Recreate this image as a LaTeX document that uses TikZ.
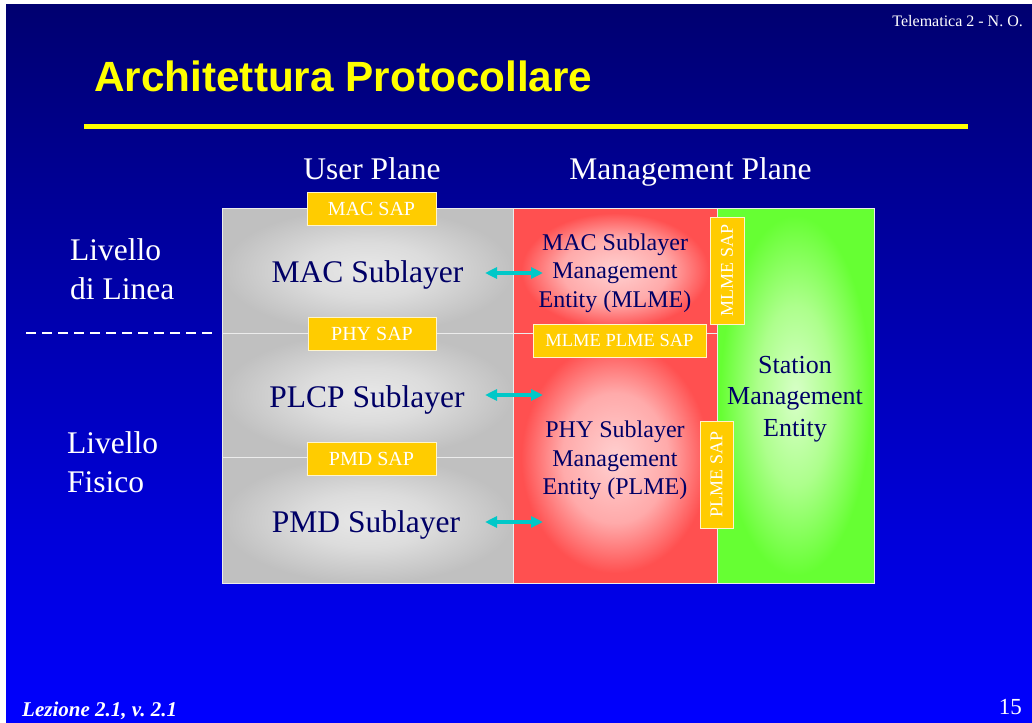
\documentclass[tikz,border=0pt]{standalone}
\usepackage{fontspec}
\setmainfont{Liberation Serif}
\newfontfamily\arialfont{Liberation Sans}
\usetikzlibrary{arrows.meta}
\newcommand\myfs[1]{\fontsize{#1}{#1}\selectfont}
\definecolor{navytop}{HTML}{000070}
\definecolor{bluebot}{HTML}{0000FF}
\definecolor{sapgold}{HTML}{FFCC00}
\definecolor{boxtext}{HTML}{000066}
\definecolor{grayout}{HTML}{C0C0C0}
\definecolor{graymid}{HTML}{DCDCDC}
\definecolor{grayin}{HTML}{E8E8E8}
\definecolor{redout}{HTML}{FF5050}
\definecolor{redmid}{HTML}{FFAAAA}
\definecolor{redin}{HTML}{FFD0D0}
\definecolor{greenout}{HTML}{66FF33}
\definecolor{greenmid}{HTML}{ADFF8C}
\definecolor{greenin}{HTML}{D8FFC8}
\definecolor{arrowcyan}{HTML}{00C8C8}
\definecolor{titleyellow}{HTML}{FFFF00}
\pgfdeclareradialshading{grayshade}{\pgfpoint{0bp}{0bp}}{color(0bp)=(grayin); color(11bp)=(graymid); color(25bp)=(grayout); color(50bp)=(grayout)}
\pgfdeclareradialshading{redshade}{\pgfpoint{0bp}{0bp}}{color(0bp)=(redin); color(13bp)=(redmid); color(23bp)=(redout); color(50bp)=(redout)}
\pgfdeclareradialshading{greenshade}{\pgfpoint{0bp}{0bp}}{color(0bp)=(greenin); color(12bp)=(greenmid); color(24bp)=(greenout); color(50bp)=(greenout)}
\begin{document}
\begin{tikzpicture}[x=1pt,y=-1pt,
  boxbase/.style={draw=white!85!gray, line width=1, anchor=north west, inner sep=0, outer sep=0, shade},
  graybox/.style={boxbase, shading=grayshade, minimum width=291},
  redbox/.style={boxbase, shading=redshade, minimum width=204},
  greenbox/.style={boxbase, shading=greenshade, minimum width=157, minimum height=375},
  sap/.style={fill=sapgold, draw=white!80!sapgold, line width=1, text=white, font=\myfs{20}, inner sep=0},
  vsap/.style={sap, font=\myfs{18}, rotate=90},
  lbl/.style={text=boxtext, font=\myfs{31.5}, anchor=base, inner sep=0},
  mtxt/.style={text=boxtext, font=\myfs{24}, anchor=base, inner sep=0},
  stxt/.style={text=boxtext, font=\myfs{26}, anchor=base, inner sep=0},
  wtxt/.style={text=white, font=\myfs{31.5}, inner sep=0},
  link/.style={arrowcyan, line width=3.2, {Triangle[width=11pt,length=12pt]}-{Triangle[width=11pt,length=12pt]}}
]
\useasboundingbox (0,0) rectangle (1032,722);
\fill[white] (0,0) rectangle (1032,722);
\shade[top color=navytop, bottom color=bluebot] (6,5) rectangle (1032,722);

% title
\node[anchor=base west, inner sep=0, text=titleyellow, font=\arialfont\bfseries\myfs{42.3}] (title) at (94,92) {Architettura Protocollare};
\fill[titleyellow] (84,124) rectangle (968,129);
\node[anchor=base east, inner sep=0, text=white, font=\myfs{16}] (hdr) at (1023,27) {Telematica 2 - N.\ O.};
\node[anchor=base west, inner sep=0, text=white, font=\bfseries\itshape\myfs{21}] (foot) at (22,716) {Lezione 2.1, v.\ 2.1};
\node[anchor=base east, inner sep=0, text=white, font=\myfs{23}] (pnum) at (1022,714) {15};

% plane headings
\node[wtxt, anchor=base] (up) at (372,179.5) {User Plane};
\node[wtxt, anchor=base] (mp) at (690.5,179.5) {Management Plane};

% left labels
\node[wtxt, anchor=base west] (ll1) at (70,260) {Livello};
\node[wtxt, anchor=base west] (ll2) at (70,299) {di Linea};
\node[wtxt, anchor=base west] (lf1) at (67,453) {Livello};
\node[wtxt, anchor=base west] (lf2) at (67,492) {Fisico};
\coordinate (dashL) at (26,333);
\coordinate (dashR) at (216,333);
\draw[white, line width=1.5, dash pattern=on 10pt off 6pt] (dashL) -- (dashR);

% boxes
\node[graybox, minimum height=125] (mac) at (222,208) {};
\node[graybox, minimum height=124] (plcp) at (222,333) {};
\node[graybox, minimum height=126] (pmd) at (222,457) {};
\node[redbox, minimum height=125] (mlme) at (513,208) {};
\node[redbox, minimum height=250] (plme) at (513,333) {};
\node[greenbox] (sme) at (717,208) {};

% SAPs
\node[sap, minimum width=129, minimum height=33] (macsap) at (371.5,208.5) {MAC SAP};
\node[sap, minimum width=128, minimum height=33] (physap) at (372,334) {PHY SAP};
\node[sap, minimum width=129, minimum height=33] (pmdsap) at (371.5,459) {PMD SAP};
\node[sap, font=\myfs{18.5}, minimum width=173, minimum height=33] (mpsap) at (619.5,340.5) {MLME PLME SAP};
\node[vsap, minimum width=107, minimum height=34] (mlmesap) at (727,270.5) {MLME SAP};
\node[vsap, minimum width=107, minimum height=33] (plmesap) at (716.5,474.5) {PLME SAP};

% layer texts
\node[lbl] (tmac) at (367.5,282) {MAC Sublayer};
\node[lbl] (tplcp) at (367,407) {PLCP Sublayer};
\node[lbl] (tpmd) at (366,532) {PMD Sublayer};

\node[mtxt] (m1) at (615,250) {MAC Sublayer};
\node[mtxt] (m2) at (615,278.5) {Management};
\node[mtxt] (m3) at (615,307) {Entity (MLME)};
\node[mtxt] (p1) at (615,437) {PHY Sublayer};
\node[mtxt] (p2) at (615,466) {Management};
\node[mtxt] (p3) at (615,494) {Entity (PLME)};
\node[stxt] (s1) at (795,373) {Station};
\node[stxt] (s2) at (795,404.5) {Management};
\node[stxt] (s3) at (795,436) {Entity};

% arrows
\coordinate (a1L) at (485,273); \coordinate (a1R) at (543,273);
\coordinate (a2L) at (485,395); \coordinate (a2R) at (543,395);
\coordinate (a3L) at (485,522); \coordinate (a3R) at (543,522);
\draw[link] (a1L) -- (a1R);
\draw[link] (a2L) -- (a2R);
\draw[link] (a3L) -- (a3R);
\end{tikzpicture}
\end{document}
